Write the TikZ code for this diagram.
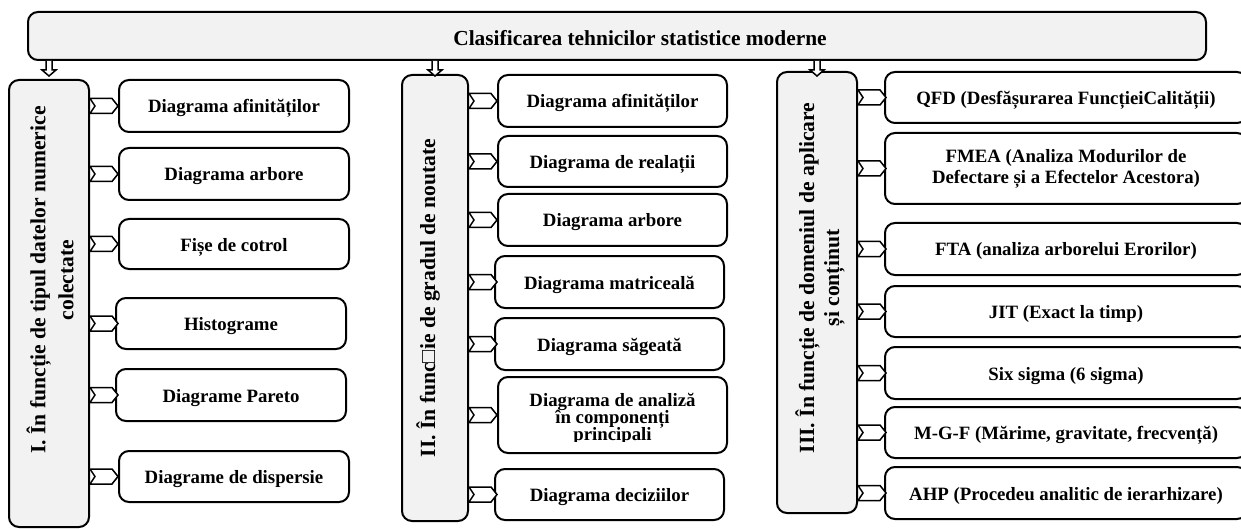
\documentclass[tikz,border=0pt]{standalone}
\usepackage{fontspec}
\setmainfont{Liberation Serif}
\usepackage{tikz}
\newcommand{\cellfont}{\fontsize{9.4}{10.5}\selectfont\bfseries}
\newcommand{\grpfont}{\fontsize{10.8}{14}\selectfont\bfseries}
\newcommand{\tightfont}{\fontsize{9.4}{8.5}\selectfont\bfseries\lineskiplimit=-10pt\relax}

\tikzset{
  headbox/.style={draw, line width=1pt, rounded corners=5pt, fill=gray!10, inner sep=0pt},
  groupbox/.style={draw, line width=1pt, rounded corners=5pt, fill=gray!10, inner sep=0pt},
  cellbox/.style={draw, line width=1pt, rounded corners=5pt, fill=white, inner sep=0pt, font=\cellfont},
  itembox/.style={cellbox, text height=7.5pt, text depth=0.5pt},
  chevron/.style={draw, line width=0.75pt, fill=white},
  downarrow/.style={draw, line width=0.75pt, fill=white},
}

\begin{document}
\begin{tikzpicture}[x=0.5pt,y=-0.5pt]
\useasboundingbox (0,0) rectangle (1241,529);
\clip (0,0) rectangle (1241,529);
% title
\node[headbox, minimum width=589pt, minimum height=24pt] (title) at (617,36) {};
\node[font=\fontsize{10.7}{12}\selectfont\bfseries] (titletext) at (640,38) {Clasificarea tehnicilor statistice moderne};
% the three groups
\node[groupbox, minimum width=40pt, minimum height=223.5pt] (colI) at (49,303.5) {};
\node[groupbox, minimum width=33pt, minimum height=223pt] (colII) at (435,298) {};
\node[groupbox, minimum width=40pt, minimum height=220.5pt] (colIII) at (817,292.5) {};
\node[rotate=90, align=center, font=\grpfont] (labI) at (50,280) {I. În funcție de tipul datelor numerice\\colectate};
\node[rotate=90, font=\grpfont] (labII) at (428,298) {II. În func□ie de gradul de noutate};
\node[rotate=90, align=center, font=\fontsize{10.8}{12.5}\selectfont\bfseries] (labIII) at (820,278) {III. În funcție de domeniul de aplicare\\și conținut};
% arrows from the title
\foreach \c in {colI,colII,colIII}
  \draw[downarrow] (title.south -| \c.north) ++(-3,0) -- ++(0,9) -- ++(-4,0) -- ++(7,6) -- ++(7,-6) -- ++(-4,0) -- ++(0,-9);
% group I
\node[itembox, minimum width=115pt, minimum height=26pt] (a1) at (234,106) {Diagrama afinităților};
\node[itembox, minimum width=115pt, minimum height=26pt] (a2) at (234,174) {Diagrama arbore};
\node[itembox, minimum width=115pt, minimum height=25pt] (a3) at (234,244) {Fișe de cotrol};
\node[itembox, minimum width=115pt, minimum height=25.5pt] (a4) at (231,323.5) {Histograme};
\node[itembox, minimum width=115pt, minimum height=26pt] (a5) at (231,395) {Diagrame Pareto};
\node[itembox, minimum width=115pt, minimum height=25.5pt] (a6) at (234,476.5) {Diagrame de dispersie};
% group II
\node[itembox, minimum width=114.5pt, minimum height=26pt] (b1) at (612.5,101) {Diagrama afinităților};
\node[itembox, minimum width=114.5pt, minimum height=25.5pt] (b2) at (612.5,161.5) {Diagrama de realații};
\node[itembox, minimum width=114.5pt, minimum height=26pt] (b3) at (612.5,220) {Diagrama arbore};
\node[itembox, minimum width=114.5pt, minimum height=26pt] (b4) at (609.5,282) {Diagrama matriceală};
\node[itembox, minimum width=114.5pt, minimum height=26pt] (b5) at (609.5,344) {Diagrama săgeată};
\node[cellbox, minimum width=114.5pt, minimum height=38pt] (b6) at (612.5,415) {};
\begin{scope}
  \clip (500,380) rectangle (725,441);
  \node[align=center, font=\tightfont] (b6text) at (612.5,419) {Diagrama de analiză\\în componenți\\principali};
\end{scope}
\node[itembox, minimum width=114.5pt, minimum height=25.5pt] (b7) at (609.5,494.5) {Diagrama deciziilor};
% group III
\node[itembox, minimum width=181pt, minimum height=25.5pt] (c1) at (1066,97.5) {QFD (Desfășurarea FuncțieiCalității)};
\node[cellbox, align=center, minimum width=181pt, minimum height=35.5pt] (c2) at (1066,168.5) {FMEA (Analiza Modurilor de\\Defectare și a Efectelor Acestora)};
\node[itembox, minimum width=181pt, minimum height=26pt] (c3) at (1066,249) {FTA (analiza arborelui Erorilor)};
\node[itembox, minimum width=181pt, minimum height=25.5pt] (c4) at (1066,311.5) {JIT (Exact la timp)};
\node[itembox, minimum width=181pt, minimum height=26pt] (c5) at (1066,373) {Six sigma (6 sigma)};
\node[itembox, minimum width=181pt, minimum height=25.5pt] (c6) at (1066,432.5) {M-G-F (Mărime, gravitate, frecvență)};
\node[itembox, minimum width=181pt, minimum height=26pt] (c7) at (1066,493) {AHP (Procedeu analitic de ierarhizare)};
% chevrons between groups and items
\foreach \n in {a1,a2,a3,a4,a5,a6}
  \draw[chevron] (colI.east |- \n.west) ++(0,-7.5) -- ++(22,0) -- ++(6,7.5) -- ++(-6,7.5) -- ++(-22,0) -- ++(5,-7.5) -- cycle;
\foreach \n in {b1,b2,b3,b4,b5,b6,b7}
  \draw[chevron] (colII.east |- \n.west) ++(0,-7.5) -- ++(22,0) -- ++(6,7.5) -- ++(-6,7.5) -- ++(-22,0) -- ++(5,-7.5) -- cycle;
\foreach \n in {c1,c2,c3,c4,c5,c6,c7}
  \draw[chevron] (colIII.east |- \n.west) ++(0,-7.5) -- ++(22,0) -- ++(6,7.5) -- ++(-6,7.5) -- ++(-22,0) -- ++(5,-7.5) -- cycle;
\end{tikzpicture}
\end{document}
